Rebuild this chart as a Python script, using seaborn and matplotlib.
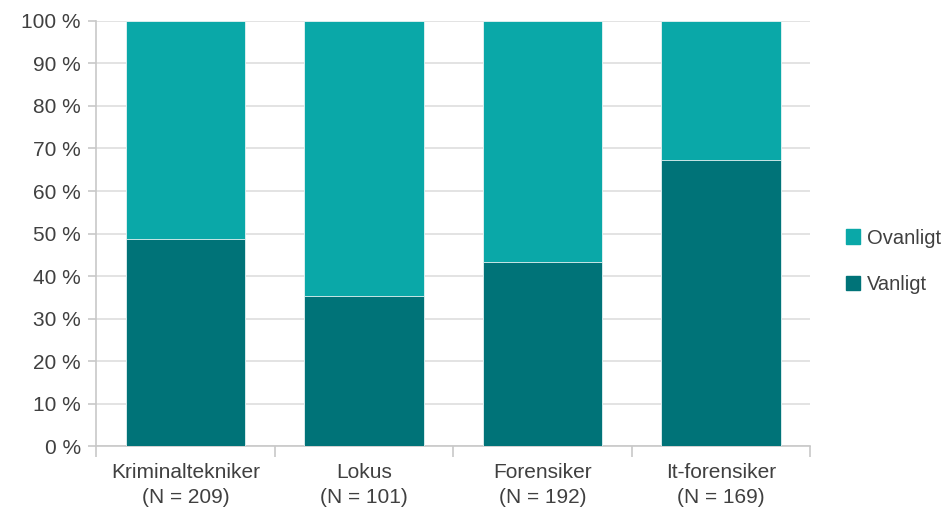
import matplotlib
matplotlib.use("Agg")
import matplotlib.pyplot as plt
import matplotlib.ticker as mticker
import seaborn as sns
import pandas as pd

categories = ["Kriminaltekniker\n(N = 209)", "Lokus\n(N = 101)",
              "Forensiker\n(N = 192)", "It-forensiker\n(N = 169)"]
vanligt = [48.7, 35.3, 43.3, 67.4]
ovanligt = [51.3, 64.7, 56.7, 32.6]

light = "#0AA8A8"
dark = "#007378"
grid_col = "#DEDEDE"
text_col = "#404040"

sns.set_theme(style="white")
plt.rcParams["font.family"] = ["Liberation Sans", "DejaVu Sans"]

df = pd.DataFrame({"kategori": categories, "Vanligt": vanligt, "Ovanligt": ovanligt})
df["total"] = df["Vanligt"] + df["Ovanligt"]

fig = plt.figure(figsize=(9.51, 5.11), dpi=100)
ax = fig.add_axes([0.101, 0.127, 0.751, 0.832])

sns.barplot(data=df, x="kategori", y="total", color=light, width=0.67,
            saturation=1, edgecolor="#E8F4F4", linewidth=0.6, ax=ax, zorder=3)
sns.barplot(data=df, x="kategori", y="Vanligt", color=dark, width=0.67,
            saturation=1, edgecolor="#E8F4F4", linewidth=0.6, ax=ax, zorder=4)

ax.set_ylim(0, 100)
ax.set_xlim(-0.5, len(categories) - 0.5)
ax.yaxis.set_major_locator(mticker.MultipleLocator(10))
ax.yaxis.set_major_formatter(mticker.FuncFormatter(lambda v, p: f"{int(v)} %"))
ax.grid(axis="y", color=grid_col, linewidth=1.2, zorder=0)
ax.set_axisbelow(True)

for s in ["top", "right"]:
    ax.spines[s].set_visible(False)
ax.spines["left"].set_color("#C8C8C8")
ax.spines["left"].set_linewidth(1.2)
ax.spines["bottom"].set_color("#C8C8C8")
ax.spines["bottom"].set_linewidth(1.2)

ax.set_xlabel("")
ax.set_ylabel("")
ax.tick_params(axis="y", left=True, length=6, width=1.2, color="#C8C8C8",
               labelsize=15, labelcolor=text_col, pad=5)
ax.tick_params(axis="x", which="major", length=0, labelsize=15,
               labelcolor=text_col, pad=12)
for lbl in ax.get_xticklabels():
    lbl.set_linespacing(1.4)
ax.set_xticks([i - 0.5 for i in range(len(categories) + 1)], minor=True)
ax.tick_params(axis="x", which="minor", bottom=True, length=8, width=1.2,
               color="#C8C8C8")

handles = [plt.Rectangle((0, 0), 1, 1, color=light),
           plt.Rectangle((0, 0), 1, 1, color=dark)]
ax.legend(handles, ["Ovanligt", "Vanligt"], loc="center left",
          bbox_to_anchor=(1.025, 0.435), frameon=False, fontsize=14.5,
          handlelength=0.7, handleheight=0.7, handletextpad=0.35,
          labelspacing=1.35, labelcolor=text_col)

fig.savefig("out.png", dpi=100)
